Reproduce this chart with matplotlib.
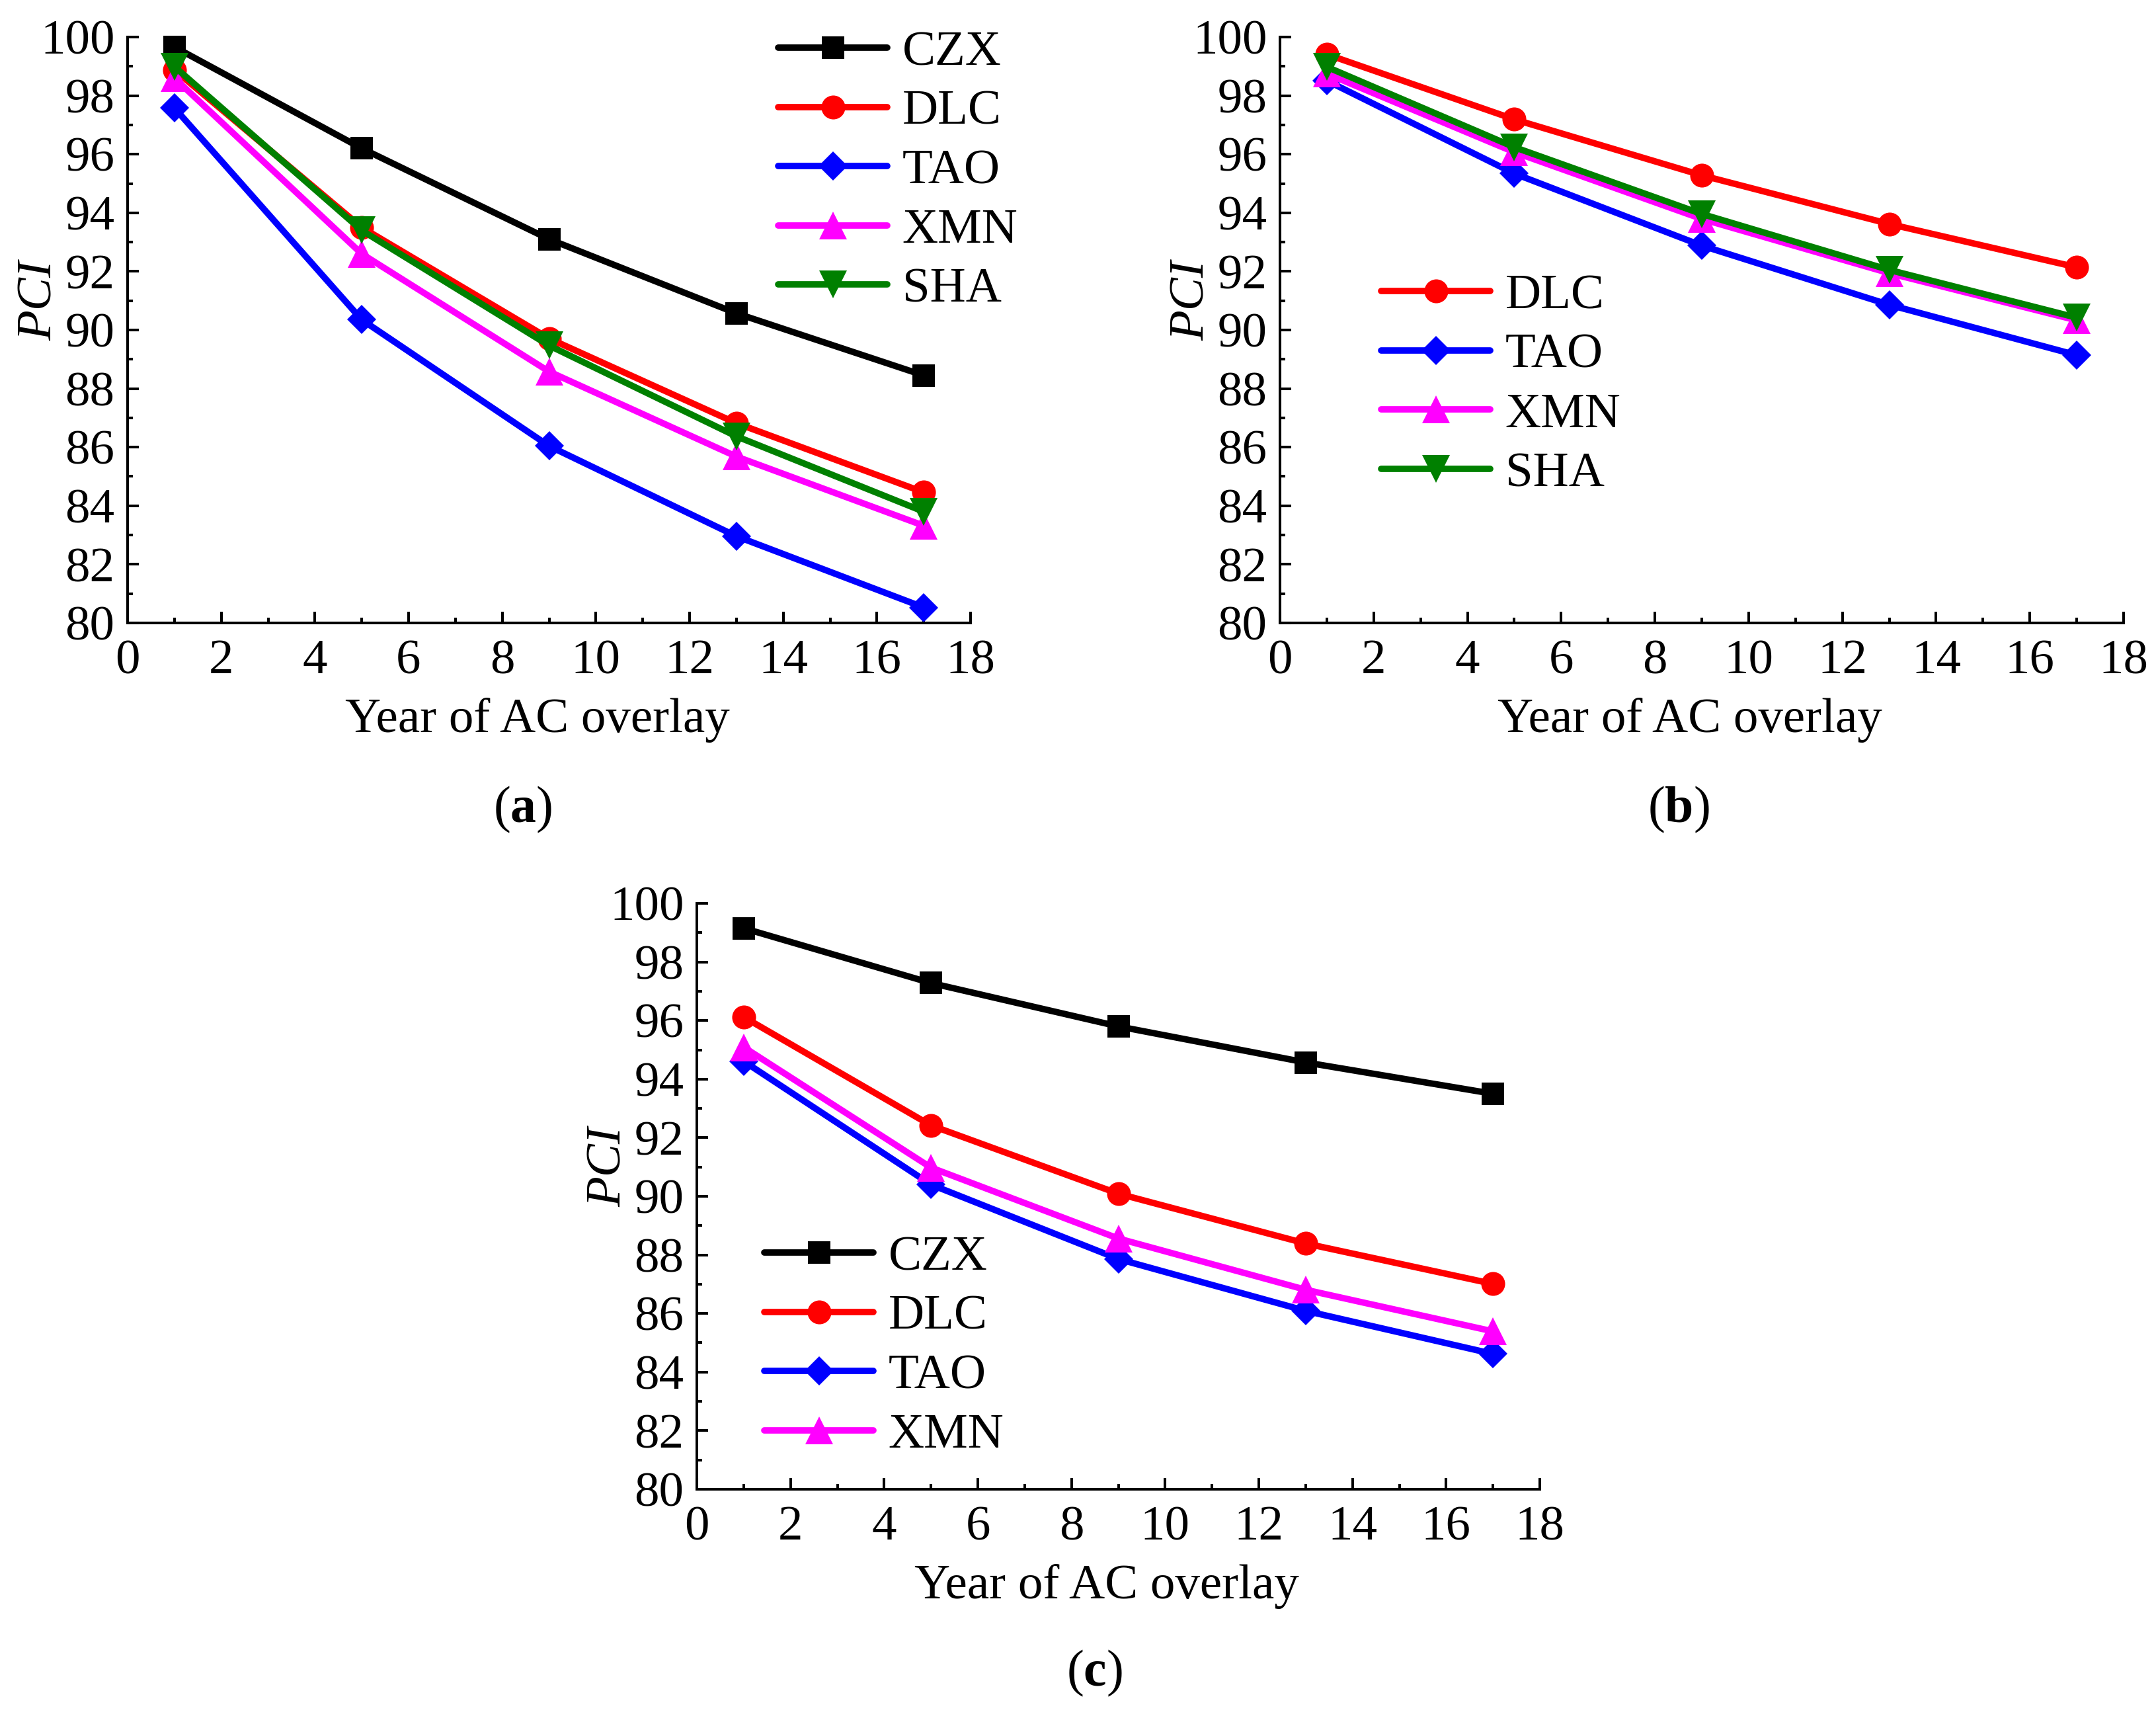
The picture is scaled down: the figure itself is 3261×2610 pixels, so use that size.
import matplotlib
matplotlib.use("Agg")
import matplotlib.pyplot as plt
from matplotlib.ticker import MultipleLocator

plt.rcParams['font.family'] = ['Liberation Serif', 'DejaVu Serif']
plt.rcParams['mathtext.fontset'] = 'custom'
plt.rcParams['mathtext.rm'] = 'Liberation Serif'
plt.rcParams['mathtext.bf'] = 'Liberation Serif:bold'

# ---------------- data ----------------
years = [1, 5, 9, 13, 17]

# panel (a)
a_CZX = [99.66, 96.20, 93.10, 90.57, 88.45]
a_DLC = [98.88, 93.50, 89.71, 86.82, 84.46]
a_TAO = [97.58, 90.35, 86.04, 82.96, 80.53]
a_XMN = [98.60, 92.60, 88.58, 85.68, 83.32]
a_SHA = [98.99, 93.40, 89.47, 86.37, 83.80]

# panel (b)
b_DLC = [99.41, 97.19, 95.28, 93.62, 92.14]
b_TAO = [98.51, 95.34, 92.88, 90.86, 89.14]
b_XMN = [98.75, 96.07, 93.79, 91.94, 90.33]
b_SHA = [98.98, 96.24, 93.96, 92.05, 90.42]

# panel (c)
c_CZX = [99.15, 97.28, 95.80, 94.57, 93.50]
c_DLC = [96.12, 92.42, 90.09, 88.39, 87.01]
c_TAO = [94.61, 90.40, 87.86, 86.09, 84.62]
c_XMN = [95.09, 90.98, 88.56, 86.81, 85.39]

x_label = "Year of AC overlay"
y_label = "PCI"
panel_tags = ["a", "b", "c"]

# ---------------- styles ----------------
style = {
    'CZX': dict(color='#000000', marker='s', ms=24),
    'DLC': dict(color='#FF0000', marker='o', ms=26),
    'TAO': dict(color='#0000FF', marker='D', ms=22),
    'XMN': dict(color='#FF00FF', marker='^', ms=30),
    'SHA': dict(color='#008000', marker='v', ms=30),
}

FS = 54
W, H = 3261, 2610
fig = plt.figure(figsize=(W / 100, H / 100), dpi=100)


def make_ax(left_px, top_px, right_px, bottom_px):
    ax = fig.add_axes([left_px / W, 1 - bottom_px / H,
                       (right_px - left_px) / W, (bottom_px - top_px) / H])
    ax.set_xlim(0, 18)
    ax.set_ylim(80, 100)
    ax.xaxis.set_major_locator(MultipleLocator(2))
    ax.xaxis.set_minor_locator(MultipleLocator(1))
    ax.yaxis.set_major_locator(MultipleLocator(2))
    ax.yaxis.set_minor_locator(MultipleLocator(1))
    for s in ['top', 'right']:
        ax.spines[s].set_visible(False)
    for s in ['left', 'bottom']:
        ax.spines[s].set_linewidth(2.9)
    ax.tick_params(which='both', direction='in', width=2.9, labelsize=FS)
    ax.tick_params(which='major', length=12)
    ax.tick_params(which='minor', length=6)
    ax.tick_params(axis='x', which='major', pad=18)
    ax.tick_params(axis='y', which='major', pad=14)
    ax.set_xlabel(x_label, fontsize=FS, va='top')
    ax.xaxis.set_label_coords(0.486, -0.127)
    ax.set_ylabel(y_label, fontsize=FS, style='italic', va='center')
    ax.yaxis.set_label_coords(-0.104, 0.55)
    return ax


def draw(ax, series):
    handles = []
    for name, vals in series:
        st = style[name]
        h, = ax.plot(years, vals, color=st['color'], lw=7.0,
                     marker=st['marker'], ms=st['ms'],
                     markeredgewidth=0, solid_capstyle='round',
                     solid_joinstyle='round', label=name, clip_on=False)
        handles.append(h)
    return handles


def legend(ax, handles, x_px, top_px):
    ax.legend(handles=handles, loc='upper left',
              bbox_to_anchor=(x_px / W, 1 - top_px / H),
              bbox_transform=fig.transFigure, frameon=False,
              fontsize=FS, borderpad=0, borderaxespad=0,
              handlelength=2.2, handletextpad=0.3, labelspacing=0.28,
              numpoints=1)


axA = make_ax(193, 56, 1468, 942)
hA = draw(axA, [('CZX', a_CZX), ('DLC', a_DLC), ('TAO', a_TAO),
                ('XMN', a_XMN), ('SHA', a_SHA)])
legend(axA, hA, 1177, 46)

axB = make_ax(1936, 56, 3212, 942)
hB = draw(axB, [('DLC', b_DLC), ('TAO', b_TAO), ('XMN', b_XMN),
                ('SHA', b_SHA)])
legend(axB, hB, 2089, 414)

axC = make_ax(1054, 1366, 2329, 2252)
hC = draw(axC, [('CZX', c_CZX), ('DLC', c_DLC), ('TAO', c_TAO),
                ('XMN', c_XMN)])
legend(axC, hC, 1156, 1868)

for tag, (xp, yp) in zip(panel_tags, [(791, 1224), (2539, 1224), (1655, 2530)]):
    fig.text(xp / W, 1 - yp / H, r"($\mathbf{%s}$)" % tag, fontsize=56,
             ha='center', va='center')

fig.savefig("out.png", dpi=100, facecolor='white')
